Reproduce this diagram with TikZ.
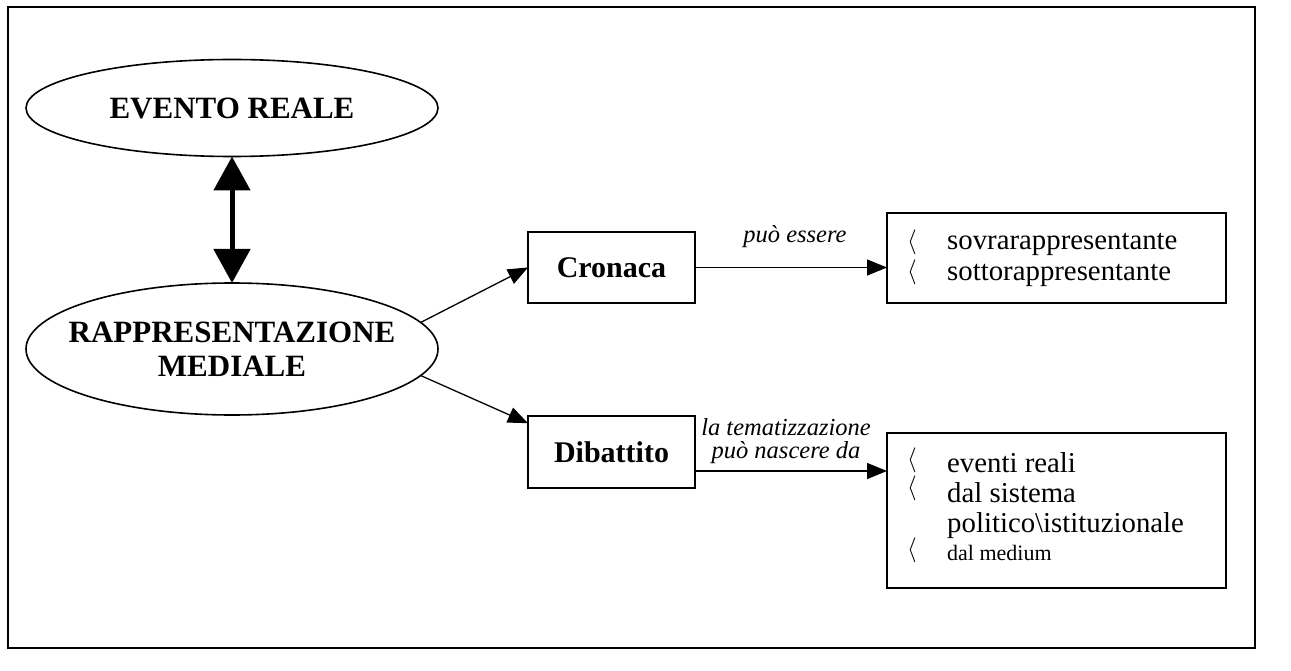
\documentclass[tikz,border=0pt]{standalone}
\usepackage{fontspec}
\setmainfont{Liberation Serif}
\usetikzlibrary{shapes.geometric,arrows.meta,calc}
\tikzset{
  ell/.style={draw,ellipse,line width=1.6pt,inner sep=0pt,outer sep=0pt},
  elltext/.style={inner sep=0pt,align=center,font=\fontsize{31}{34}\selectfont\bfseries},
  box/.style={draw,rectangle,line width=1.6pt,inner sep=0pt,outer sep=0pt,font=\fontsize{30}{34}\selectfont\bfseries},
  lst/.style={draw,rectangle,line width=1.6pt,inner sep=0pt,outer sep=0pt},
  arr/.style={line width=1.3pt,-{Triangle[length=20pt,width=16pt]}},
  darr/.style={line width=5pt,{Triangle[length=34pt,width=36pt]}-{Triangle[length=34pt,width=36pt]}},
  itl/.style={font=\fontsize{24.5}{28}\selectfont\itshape,inner sep=0pt},
  txt/.style={font=\fontsize{28.8}{30}\selectfont,inner sep=0pt,anchor=base west},
  sml/.style={font=\fontsize{22}{26}\selectfont,inner sep=0pt,anchor=base west},
  brk/.style={font=\fontsize{32}{34}\selectfont,inner sep=0pt}
}
\begin{document}
\begin{tikzpicture}[x=1pt,y=-1pt]
\useasboundingbox (0,0) rectangle (1291,671);
\draw[line width=2pt] (8,7) rectangle (1255,648);
% ellipses
\node[ell,minimum width=412pt,minimum height=97pt] (e1) at (232,108) {};
\node[elltext] (e1t) at (e1.center) {EVENTO REALE};
\node[ell,minimum width=412pt,minimum height=132pt] (e2) at (232,349) {};
\node[elltext] (e2t) at (e2.center) {RAPPRESENTAZIONE\\MEDIALE};
\draw[darr] (e1.south) -- (e2.north);
% boxes
\node[box,minimum width=167pt,minimum height=71pt] (cron) at (611.5,267.5) {Cronaca};
\node[box,minimum width=167pt,minimum height=72pt] (dib) at (611.5,452) {Dibattito};
\node[lst,minimum width=339pt,minimum height=90pt] (b1) at (1056.5,258) {};
\node[lst,minimum width=339pt,minimum height=155pt] (b2) at (1056.5,510.5) {};
% arrows
\draw[arr] (e2.8.9) -- (cron.west);
\coordinate (dibin) at ($(dib.north west)!0.1!(dib.south west)$);
\draw[arr] (e2.-8.9) -- (dibin);
\draw[arr] (cron.east) -- (cron.east -| b1.west);
\coordinate (dibout) at ($(dib.north east)!0.764!(dib.south east)$);
\draw[arr] (dibout) -- (dibout -| b2.west);
% labels
\node[itl] (l1) at (795,237) {può essere};
\node[itl] (l2) at (786,427) {la tematizzazione};
\node[itl] (l3) at (786,453) {può nascere da};
% list 1
\node[brk] (k1) at (912,242) {$\langle$};
\node[brk] (k2) at (912,272) {$\langle$};
\node[txt] (t1) at (947,250) {sovrarappresentante};
\node[txt] (t2) at (947,280) {sottorappresentante};
% list 2
\node[brk] (k3) at (912,460) {$\langle$};
\node[brk] (k4) at (912,488) {$\langle$};
\node[brk] (k5) at (912,550) {$\langle$};
\node[txt] (t3) at (947,472) {eventi reali};
\node[txt] (t4) at (947,502) {dal sistema};
\node[txt] (t5) at (947,532) {politico\textbackslash istituzionale};
\node[sml] (t6) at (947,560) {dal medium};
\end{tikzpicture}
\end{document}
